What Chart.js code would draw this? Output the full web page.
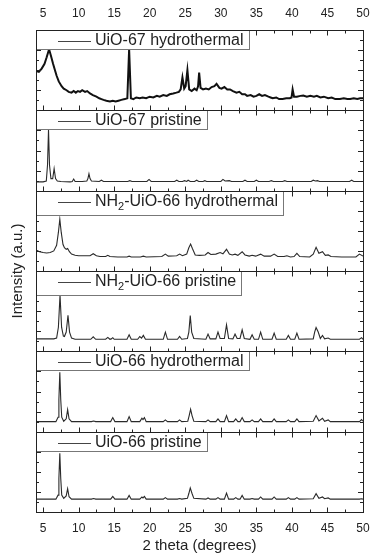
<!DOCTYPE html>
<html lang="en">
<head>
<meta charset="UTF-8">
<title>XRD patterns</title>
<script src="https://cdn.jsdelivr.net/npm/chart.js"></script>
<style>
  html, body { margin: 0; padding: 0; background: #fff; }
  canvas { display: block; }
</style>
</head>
<body>
<canvas id="xrd" width="370" height="555"></canvas>
<script>
// legend labels, top panel first
const sampleLabels = [
  'UiO-67 hydrothermal',
  'UiO-67 pristine',
  'NH₂-UiO-66 hydrothermal',
  'NH₂-UiO-66 pristine',
  'UiO-66 hydrothermal',
  'UiO-66 pristine'
];

const xTicks = [5, 10, 15, 20, 25, 30, 35, 40, 45, 50];
const xMinorTicks = [7.5, 12.5, 17.5, 22.5, 27.5, 32.5, 37.5, 42.5, 47.5];

// [2 theta, intensity], each panel scaled 0..100
const uio67Hydro = [[4.0,49],[4.4,48],[4.8,52],[5.2,58],[5.5,66],[5.84,76],[6.1,68],[6.4,58],[6.7,49],[6.9,43],[7.2,36],[7.6,30],[7.9,27],[8.3,25],[8.6,23],[9.0,22],[9.3,24],[9.6,22],[9.9,24],[10.2,23],[10.5,25],[10.9,23],[11.2,24],[11.6,21],[12.0,19],[12.5,17],[12.9,15],[13.2,14],[13.5,13],[13.9,12],[14.4,11],[14.8,12],[15.2,11],[15.6,12],[16.0,13],[16.5,14],[16.85,15],[17.1,76],[17.35,15],[17.7,14],[18.1,16],[18.6,15],[19.0,16],[19.5,15],[20.0,17],[20.5,16],[21.0,18],[21.4,17],[21.9,19],[22.4,18],[22.8,20],[23.3,21],[23.75,22],[24.1,23],[24.35,26],[24.6,41],[24.85,27],[25.05,30],[25.3,50],[25.55,26],[25.9,24],[26.3,27],[26.6,25],[26.8,30],[26.95,47],[27.15,28],[27.5,26],[27.9,27],[28.3,26],[28.7,29],[29.1,30],[29.4,33],[29.8,28],[30.1,27],[30.5,29],[30.9,26],[31.3,26],[31.7,24],[32.2,22],[32.6,23],[33.0,20],[33.4,20],[33.7,18],[34.2,19],[34.6,17],[35.0,18],[35.4,20],[35.8,18],[36.2,19],[36.7,17],[37.0,16],[37.3,15],[37.8,16],[38.2,14],[38.7,14],[39.2,15],[39.7,15],[39.95,16],[40.1,26],[40.3,17],[40.7,17],[41.2,18],[41.6,18.5],[42.1,17],[42.6,18],[43.1,17],[43.5,18],[44.0,16],[44.5,17],[45.1,15],[45.6,16],[46.1,14],[46.75,14],[47.3,15],[47.8,14],[48.2,14],[48.7,15],[49.2,14],[49.6,15],[50.0,15]];

const uio67Pristine = [[4.0,11],[5.0,11],[5.45,12],[5.62,32],[5.76,76],[5.9,32],[6.1,15],[6.35,15],[6.55,27.5],[6.75,15],[7.0,12],[7.5,11.5],[8.8,11],[9.1,11.5],[9.3,14.5],[9.5,11.5],[10.5,11.5],[11.15,12],[11.3,15],[11.45,21],[11.6,15],[11.8,12],[12.9,11.5],[13.2,13],[13.5,11.5],[16.9,11.5],[17.2,12.5],[17.5,11.5],[19.6,11.5],[19.9,14],[20.2,11.5],[23.5,11.5],[23.8,13],[24.1,11.5],[24.6,11.5],[24.9,12.5],[25.2,11.5],[25.4,13],[25.7,11.5],[26.3,11.5],[26.6,13],[26.9,11.5],[27.5,11.5],[27.75,12.5],[28.0,11.5],[30.0,11.5],[30.3,14],[30.6,12],[31.2,12.5],[31.5,11.5],[33.1,11.5],[33.4,13],[33.7,11.5],[34.7,11.5],[35.0,13],[35.3,11.5],[36.8,11.5],[37.1,12.5],[37.4,11.5],[38.7,11.5],[39.0,12.5],[39.3,11.5],[42.7,11.5],[43.0,13],[43.3,12],[43.6,12.5],[43.9,11.5],[48.1,11.5],[48.4,13],[48.7,11.5],[50,11.5]];

const nh2Hydro = [[4.0,26],[4.5,24],[5.0,23],[5.5,22.5],[6.0,23],[6.5,25],[6.9,32],[7.15,48],[7.35,64.5],[7.55,48],[7.8,33],[8.0,29],[8.25,27],[8.45,28],[8.7,24],[9.0,21],[9.5,19.5],[10.0,19],[10.9,19],[11.6,19],[12.05,21.5],[12.5,19],[13.0,18],[13.8,18],[14.1,19.5],[14.4,18],[15.5,17.5],[16.8,17.5],[17.1,18.5],[17.4,17.5],[18.7,17.5],[19.1,18.5],[19.5,17.5],[21.7,18],[22.2,21],[22.6,18.5],[23.8,19],[24.2,21],[24.6,19],[25.2,21],[25.5,29],[25.75,33.5],[26.0,28],[26.4,20],[27.0,19.5],[27.8,20],[28.2,23],[28.6,20.5],[29.3,21],[29.9,23],[30.3,21.5],[30.8,27],[31.2,21],[31.6,20],[32.0,21],[32.4,19.5],[33.0,24],[33.4,20],[34.0,18.5],[34.4,19.5],[34.9,18.5],[35.6,21],[36.1,18.5],[37.0,18.5],[37.5,21],[38.0,18],[38.9,18],[39.3,19],[39.8,17.5],[40.3,18],[40.7,22],[41.1,18],[42.5,17.5],[43.0,21],[43.4,29.5],[43.8,22],[44.3,24],[44.7,19.5],[45.1,20],[45.5,18],[47.0,17.5],[49.0,17.5],[49.5,21],[50,18.5]];

const nh2Pristine = [[4.0,15.5],[6.5,15.5],[6.9,16.5],[7.15,30],[7.38,70],[7.6,30],[7.85,19],[8.0,18.5],[8.25,24],[8.5,45],[8.72,24],[9.0,16.5],[9.5,15],[11.7,15],[12.05,18],[12.4,15],[13.8,15],[14.1,17.3],[14.4,15],[14.6,15.5],[14.8,17],[15.0,15],[16.8,15],[17.1,20.6],[17.4,15],[18.3,15],[18.6,18.5],[18.85,16.5],[19.1,19.8],[19.4,15],[21.9,15],[22.2,23.9],[22.5,15],[23.9,15],[24.2,18.5],[24.5,15],[25.3,16],[25.5,24],[25.7,44.5],[25.9,24],[26.2,16],[27.9,15],[28.2,21.4],[28.5,15.5],[29.3,15.5],[29.6,23.9],[29.9,16],[30.5,16],[30.8,33],[31.1,16],[31.7,15.5],[32.0,21.4],[32.3,16],[32.7,16],[33.0,26.8],[33.3,16],[34.1,15],[34.4,20.6],[34.7,15],[35.3,15],[35.6,23.9],[35.9,15],[37.2,15],[37.5,22.6],[37.8,15],[39.2,15],[39.5,19.8],[39.8,15],[40.4,15],[40.7,22.6],[41.0,15],[43.0,15.5],[43.2,24],[43.4,29.6],[43.7,24],[44.0,16],[44.3,19.8],[44.6,15.5],[45.1,16.5],[45.4,15],[49.5,15],[49.8,17],[50,15]];

const uio66Hydro = [[4.0,12.5],[6.8,12.5],[7.1,18],[7.22,40],[7.35,74],[7.48,40],[7.62,18],[7.9,13],[8.25,16],[8.45,27.5],[8.65,16],[9.0,12.5],[11.8,12.5],[12.1,13.3],[12.4,12.5],[14.5,12.5],[14.8,17.5],[15.1,12.5],[16.8,12.5],[17.1,18.7],[17.4,12.5],[18.6,12.5],[18.9,16.7],[19.05,15],[19.25,17.5],[19.5,12.5],[21.9,12.5],[22.2,14.6],[22.5,12.5],[23.9,12.5],[24.2,14.6],[24.5,12.5],[25.35,13],[25.55,20],[25.75,28],[25.95,20],[26.2,13],[27.9,12.5],[28.2,14.6],[28.5,12.5],[29.3,12.5],[29.6,15.8],[29.9,12.5],[30.5,12.5],[30.8,20],[31.1,12.5],[31.8,12.5],[32.1,15.8],[32.4,12.5],[32.7,12.5],[33.0,17.5],[33.3,12.5],[34.1,12.5],[34.4,14.6],[34.7,12.5],[35.3,12.5],[35.6,15.8],[35.9,12.5],[37.2,12.5],[37.5,15.8],[37.8,12.5],[39.2,12.5],[39.5,14.6],[39.8,12.5],[40.4,12.5],[40.7,15.8],[41.0,12.5],[43.0,13],[43.4,20],[43.8,13.5],[44.3,16.7],[44.6,13],[45.1,14.6],[45.4,12.5],[49.5,12.5],[49.8,15],[50,13]];

const uio66Pristine = [[4.0,16],[6.8,16],[7.1,21],[7.22,42],[7.35,73],[7.48,42],[7.62,21],[7.9,17],[8.25,20],[8.45,29],[8.65,19],[9.0,16],[11.8,16],[12.1,16.7],[12.4,16],[14.5,16],[14.8,19.5],[15.1,16],[16.8,16],[17.1,20.7],[17.4,16],[18.6,16],[18.9,18.7],[19.05,17.5],[19.25,19.5],[19.5,16],[21.9,16],[22.2,17.9],[22.5,16],[23.9,16],[24.2,16.7],[24.5,16],[25.3,17],[25.5,23],[25.7,30],[25.95,23],[26.2,17],[27.9,16],[28.2,17.5],[28.5,16],[29.3,16],[29.6,17.9],[29.9,16],[30.5,16],[30.8,23.5],[31.1,16],[31.8,16],[32.1,17.9],[32.4,16],[32.7,16],[33.0,20.7],[33.3,16],[34.1,16],[34.4,16.7],[34.7,16],[35.3,16],[35.6,18.7],[35.9,16],[37.2,16],[37.5,18.7],[37.8,16],[39.2,16],[39.5,17.9],[39.8,16],[40.4,16],[40.7,17.9],[41.0,16],[43.0,16.5],[43.4,22.8],[43.8,17],[44.3,18.7],[44.6,16.5],[45.1,17.5],[45.4,16],[49.5,16],[49.8,16.5],[50,16]];

const patterns = [uio67Hydro, uio67Pristine, nh2Hydro, nh2Pristine, uio66Hydro, uio66Pristine];

const FONT = '"Liberation Sans", Arial, sans-serif';
const INK = '#222';

Chart.defaults.font.family = FONT;
Chart.defaults.color = INK;

// keep the x axes from reserving extra room beside the last label
const fitX = height => s => {
    s.height = height;
    s.paddingLeft = 0;
    s.paddingRight = 7;
};

// build one stacked y axis per panel; defined bottom panel first so y0 ends on top
const scales = {
    x: {
        type: 'linear', position: 'bottom', min: 4, max: 50,
        afterBuildTicks: s => { s.ticks = xTicks.map(v => ({ value: v })); },
        afterFit: fitX(43),
        grid: { display: false, drawTicks: false }, border: { display: false },
        ticks: { font: { size: 12 }, padding: 9, maxRotation: 0, autoSkip: false },
        title: { display: true, text: '2 theta (degrees)', font: { size: 15 }, padding: { top: 4, bottom: 0 } }
    },
    xTop: {
        type: 'linear', position: 'top', min: 4, max: 50,
        afterBuildTicks: s => { s.ticks = xTicks.map(v => ({ value: v })); },
        afterFit: fitX(30),
        grid: { display: false, drawTicks: false }, border: { display: false },
        ticks: { font: { size: 12 }, padding: 9.5, maxRotation: 0, autoSkip: false }
    }
};
for (let i = patterns.length - 1; i >= 0; i--) {
    scales['y' + i] = {
        type: 'linear', position: 'left', stack: 'panels', stackWeight: 1,
        min: 0, max: 100, display: false
    };
}
scales.yTitle = {
    type: 'linear', position: 'left', min: 0, max: 1,
    afterFit: s => { s.width = 31; },
    grid: { display: false, drawTicks: false }, border: { display: false },
    ticks: { display: false },
    title: { display: true, text: 'Intensity (a.u.)', font: { size: 15 }, padding: { top: 4, bottom: 9 } }
};

// frames, inward ticks and Origin-style legend boxes
const panelDecor = {
    id: 'panelDecor',
    afterDatasetsDraw(chart) {
        const ctx = chart.ctx;
        const xs = chart.scales.x;
        const { left, right } = chart.chartArea;
        ctx.save();
        chart.data.datasets.forEach((ds, i) => {
            const ys = chart.scales['y' + i];
            const top = Math.round(ys.top) + 0.5;
            const bottom = Math.round(ys.bottom) + 0.5;

            ctx.strokeStyle = INK;
            ctx.lineWidth = 1;
            ctx.beginPath();
            xTicks.concat(xMinorTicks).forEach(v => {
                const px = Math.round(xs.getPixelForValue(v)) + 0.5;
                const len = xTicks.includes(v) ? 5 : 3;
                ctx.moveTo(px, bottom); ctx.lineTo(px, bottom - len);
                ctx.moveTo(px, top); ctx.lineTo(px, top + len);
            });
            for (let k = 1; k < 8; k++) {
                const py = Math.round(ys.getPixelForValue(k * 12.5)) + 0.5;
                const len = k % 2 ? 3 : 5;
                ctx.moveTo(left, py); ctx.lineTo(left + len, py);
                ctx.moveTo(right, py); ctx.lineTo(right - len, py);
            }
            ctx.stroke();

            // legend box
            const label = ds.label;
            const hasSub = label.includes('₂');
            const parts = label.split('₂');
            ctx.font = '16px ' + FONT;
            let textW = ctx.measureText(parts[0]).width;
            if (hasSub) {
                ctx.font = '11px ' + FONT;
                textW += ctx.measureText('2').width;
                ctx.font = '16px ' + FONT;
                textW += ctx.measureText(parts[1]).width;
            }
            const boxH = hasSub ? 24 : 19;
            const lineX0 = left + 22, lineX1 = lineX0 + 33;
            const boxW = Math.round(22 + 33 + 4 + textW + 5);
            const midY = top + 10.5;
            ctx.fillStyle = '#fff';
            ctx.fillRect(left, top, boxW, boxH);
            ctx.strokeStyle = '#777';
            ctx.strokeRect(left + 0.5, top, boxW, boxH);
            ctx.strokeStyle = '#444';
            ctx.lineWidth = 1.2;
            ctx.beginPath();
            ctx.moveTo(lineX0, Math.round(midY) + 0.5);
            ctx.lineTo(lineX1, Math.round(midY) + 0.5);
            ctx.stroke();
            ctx.fillStyle = INK;
            ctx.textBaseline = 'middle';
            let tx = lineX1 + 4;
            ctx.fillText(parts[0], tx, midY);
            tx += ctx.measureText(parts[0]).width;
            if (hasSub) {
                ctx.font = '11px ' + FONT;
                ctx.fillText('2', tx, midY + 5);
                tx += ctx.measureText('2').width;
                ctx.font = '16px ' + FONT;
                ctx.fillText(parts[1], tx, midY);
            }

            // panel frame
            ctx.strokeStyle = INK;
            ctx.lineWidth = 1;
            ctx.strokeRect(Math.round(left) + 0.5, top, Math.round(right - left), bottom - top);
        });
        ctx.restore();
    }
};

new Chart(document.getElementById('xrd'), {
    type: 'line',
    data: {
        datasets: patterns.map((d, i) => ({
            label: sampleLabels[i],
            data: d,
            xAxisID: 'x',
            yAxisID: 'y' + i,
            borderColor: i === 0 ? '#111' : '#2a2a2a',
            borderWidth: i === 0 ? 2 : 1.1,
            pointRadius: 0,
            tension: 0,
            fill: false
        }))
    },
    options: {
        responsive: false,
        animation: false,
        layout: { padding: { top: 0, right: 0, bottom: 0, left: 5 } },
        scales: scales,
        plugins: { legend: { display: false }, tooltip: { enabled: false } }
    },
    plugins: [panelDecor]
});
</script>
</body>
</html>
